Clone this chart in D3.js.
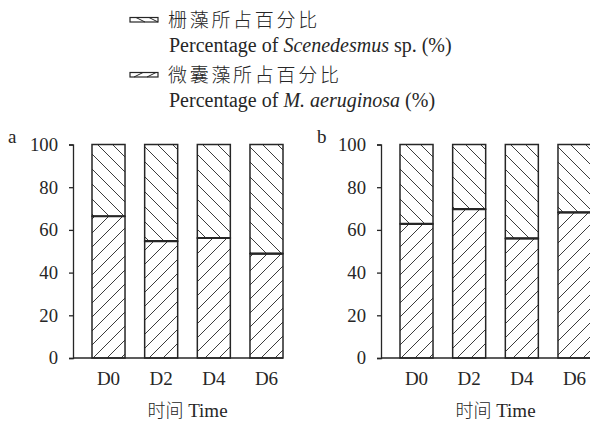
<!DOCTYPE html>
<html>
<head>
<meta charset="utf-8">
<script src="https://cdn.jsdelivr.net/npm/d3@7"></script>
<style>
  html, body { margin: 0; padding: 0; background: #fff; }
  svg { display: block; }
</style>
</head>
<body>
<svg id="chart" width="590" height="422"></svg>
<script>
// Sampling days
const days = ["D0", "D2", "D4", "D6"];
// Share of Microcystis aeruginosa (%) per panel
const microA = [66.4, 54.7, 56.2, 48.9];
const microB = [62.8, 69.7, 56.0, 68.2];
// Share of Scenedesmus sp. (%) per panel
const sceneA = [33.6, 45.3, 43.8, 51.1];
const sceneB = [37.2, 30.3, 44.0, 31.8];
// Y axis ticks
const yTicks = [0, 20, 40, 60, 80, 100];
const panelLabels = ["a", "b"];

const SERIF = "'Liberation Serif', 'Times New Roman', serif";
const CJK = "'Noto Sans CJK SC', sans-serif";

const svg = d3.select("#chart");
const ink = "#262626";

// Hatch fills
const defs = svg.append("defs");
function hatch(id, dir, s) {
  const p = defs.append("pattern")
    .attr("id", id)
    .attr("patternUnits", "userSpaceOnUse")
    .attr("width", s).attr("height", s);
  p.append("rect").attr("width", s).attr("height", s).attr("fill", "#fff");
  const d = dir === "down"
    ? `M0,0L${s},${s}M${-s},0L${s},${2*s}M0,${-s}L${2*s},${s}`
    : `M0,${s}L${s},0M${-s},${s}L${s},${-s}M0,${2*s}L${2*s},0`;
  p.append("path").attr("d", d).attr("stroke", ink).attr("stroke-width", 0.9).attr("fill", "none");
}
hatch("hatchScene", "down", 15);
hatch("hatchMicro", "up", 14);

const y = d3.scaleLinear().domain([0, 100]).range([358, 144.5]);

const panels = [
  { x0: 73, micro: microA, scene: sceneA, label: panelLabels[0], lx: 8 },
  { x0: 381, micro: microB, scene: sceneB, label: panelLabels[1], lx: 317 }
];

panels.forEach(pn => {
  const g = svg.append("g").attr("transform", `translate(${pn.x0},0)`);
  const x = d3.scaleBand().domain(days).range([19, 210]).paddingInner(0.373).paddingOuter(0);

  const rows = days.map((d, i) => ({ day: d, micro: pn.micro[i], scene: pn.scene[i] }));
  const stack = d3.stack().keys(["micro", "scene"])(rows);
  const fills = { micro: "url(#hatchMicro)", scene: "url(#hatchScene)" };

  stack.forEach(layer => {
    g.append("g").selectAll("rect")
      .data(layer)
      .join("rect")
      .attr("x", d => x(d.data.day))
      .attr("width", x.bandwidth())
      .attr("y", d => y(d[1]))
      .attr("height", d => y(d[0]) - y(d[1]))
      .attr("fill", fills[layer.key])
      .attr("stroke", ink)
      .attr("stroke-width", 1.5);
  });

  // Boundary line between the two shares
  g.append("g").selectAll("line")
    .data(rows)
    .join("line")
    .attr("x1", d => x(d.day))
    .attr("x2", d => x(d.day) + x.bandwidth())
    .attr("y1", d => y(d.micro))
    .attr("y2", d => y(d.micro))
    .attr("stroke", ink)
    .attr("stroke-width", 2.2);

  // Y axis
  const ya = g.append("g")
    .call(d3.axisLeft(y).tickValues(yTicks).tickSize(4).tickPadding(11));
  ya.selectAll("path, line").attr("stroke", ink).attr("stroke-width", 1.3);
  ya.selectAll("text").style("font-family", SERIF).style("font-size", "18.7px").attr("fill", ink);

  // X axis
  const xa = g.append("g").attr("transform", `translate(0,${y(0)})`)
    .call(d3.axisBottom(x).tickSize(0).tickPadding(14));
  xa.select(".domain").remove();
  xa.selectAll("text").style("font-family", SERIF).style("font-size", "19px").attr("fill", ink);
  g.append("line")
    .attr("x1", 0).attr("x2", x.range()[1])
    .attr("y1", y(0)).attr("y2", y(0))
    .attr("stroke", ink).attr("stroke-width", 1.3);

  // Axis title
  const t = g.append("text")
    .attr("x", (x.range()[0] + x.range()[1]) / 2)
    .attr("y", 417)
    .attr("text-anchor", "middle")
    .attr("fill", ink);
  t.append("tspan").style("font-family", CJK).style("font-size", "18px").style("font-weight", 300).text("时间");
  t.append("tspan").style("font-family", SERIF).style("font-size", "19px").text(" Time");

  // Panel letter
  svg.append("text")
    .attr("x", pn.lx).attr("y", 143)
    .style("font-family", SERIF).style("font-size", "19px").attr("fill", ink)
    .text(pn.label);
});

// Legend
const legend = [
  { cn: "栅藻所占百分比", en: ["Percentage of ", "Scenedesmus", " sp. (%)"], dir: "down", y: 17.5 },
  { cn: "微囊藻所占百分比", en: ["Percentage of ", "M. aeruginosa", " (%)"], dir: "up", y: 72.5 }
];
legend.forEach(it => {
  const lg = svg.append("g");
  lg.append("rect").attr("x", 130).attr("y", it.y).attr("width", 28).attr("height", 4.5)
    .attr("fill", "#fff").attr("stroke", ink).attr("stroke-width", 1.2);
  const segs = it.dir === "down"
    ? [[136, 0, 145, 4.5], [149, 0, 158, 4.5]]
    : [[134, 4.5, 143, 0], [147, 4.5, 156, 0]];
  segs.forEach(s => lg.append("line")
    .attr("x1", s[0]).attr("y1", it.y + s[1]).attr("x2", s[2]).attr("y2", it.y + s[3])
    .attr("stroke", ink).attr("stroke-width", 1));
  lg.append("text")
    .attr("x", 168).attr("y", it.y + 9.5)
    .style("font-family", CJK).style("font-size", "19px").style("font-weight", 300)
    .style("letter-spacing", "2.7px").attr("fill", ink)
    .text(it.cn);
  const en = lg.append("text")
    .attr("x", 169).attr("y", it.y + 34)
    .style("font-family", SERIF).style("font-size", "20px").attr("fill", ink);
  en.append("tspan").text(it.en[0]);
  en.append("tspan").style("font-style", "italic").text(it.en[1]);
  en.append("tspan").text(it.en[2]);
});
</script>
</body>
</html>
